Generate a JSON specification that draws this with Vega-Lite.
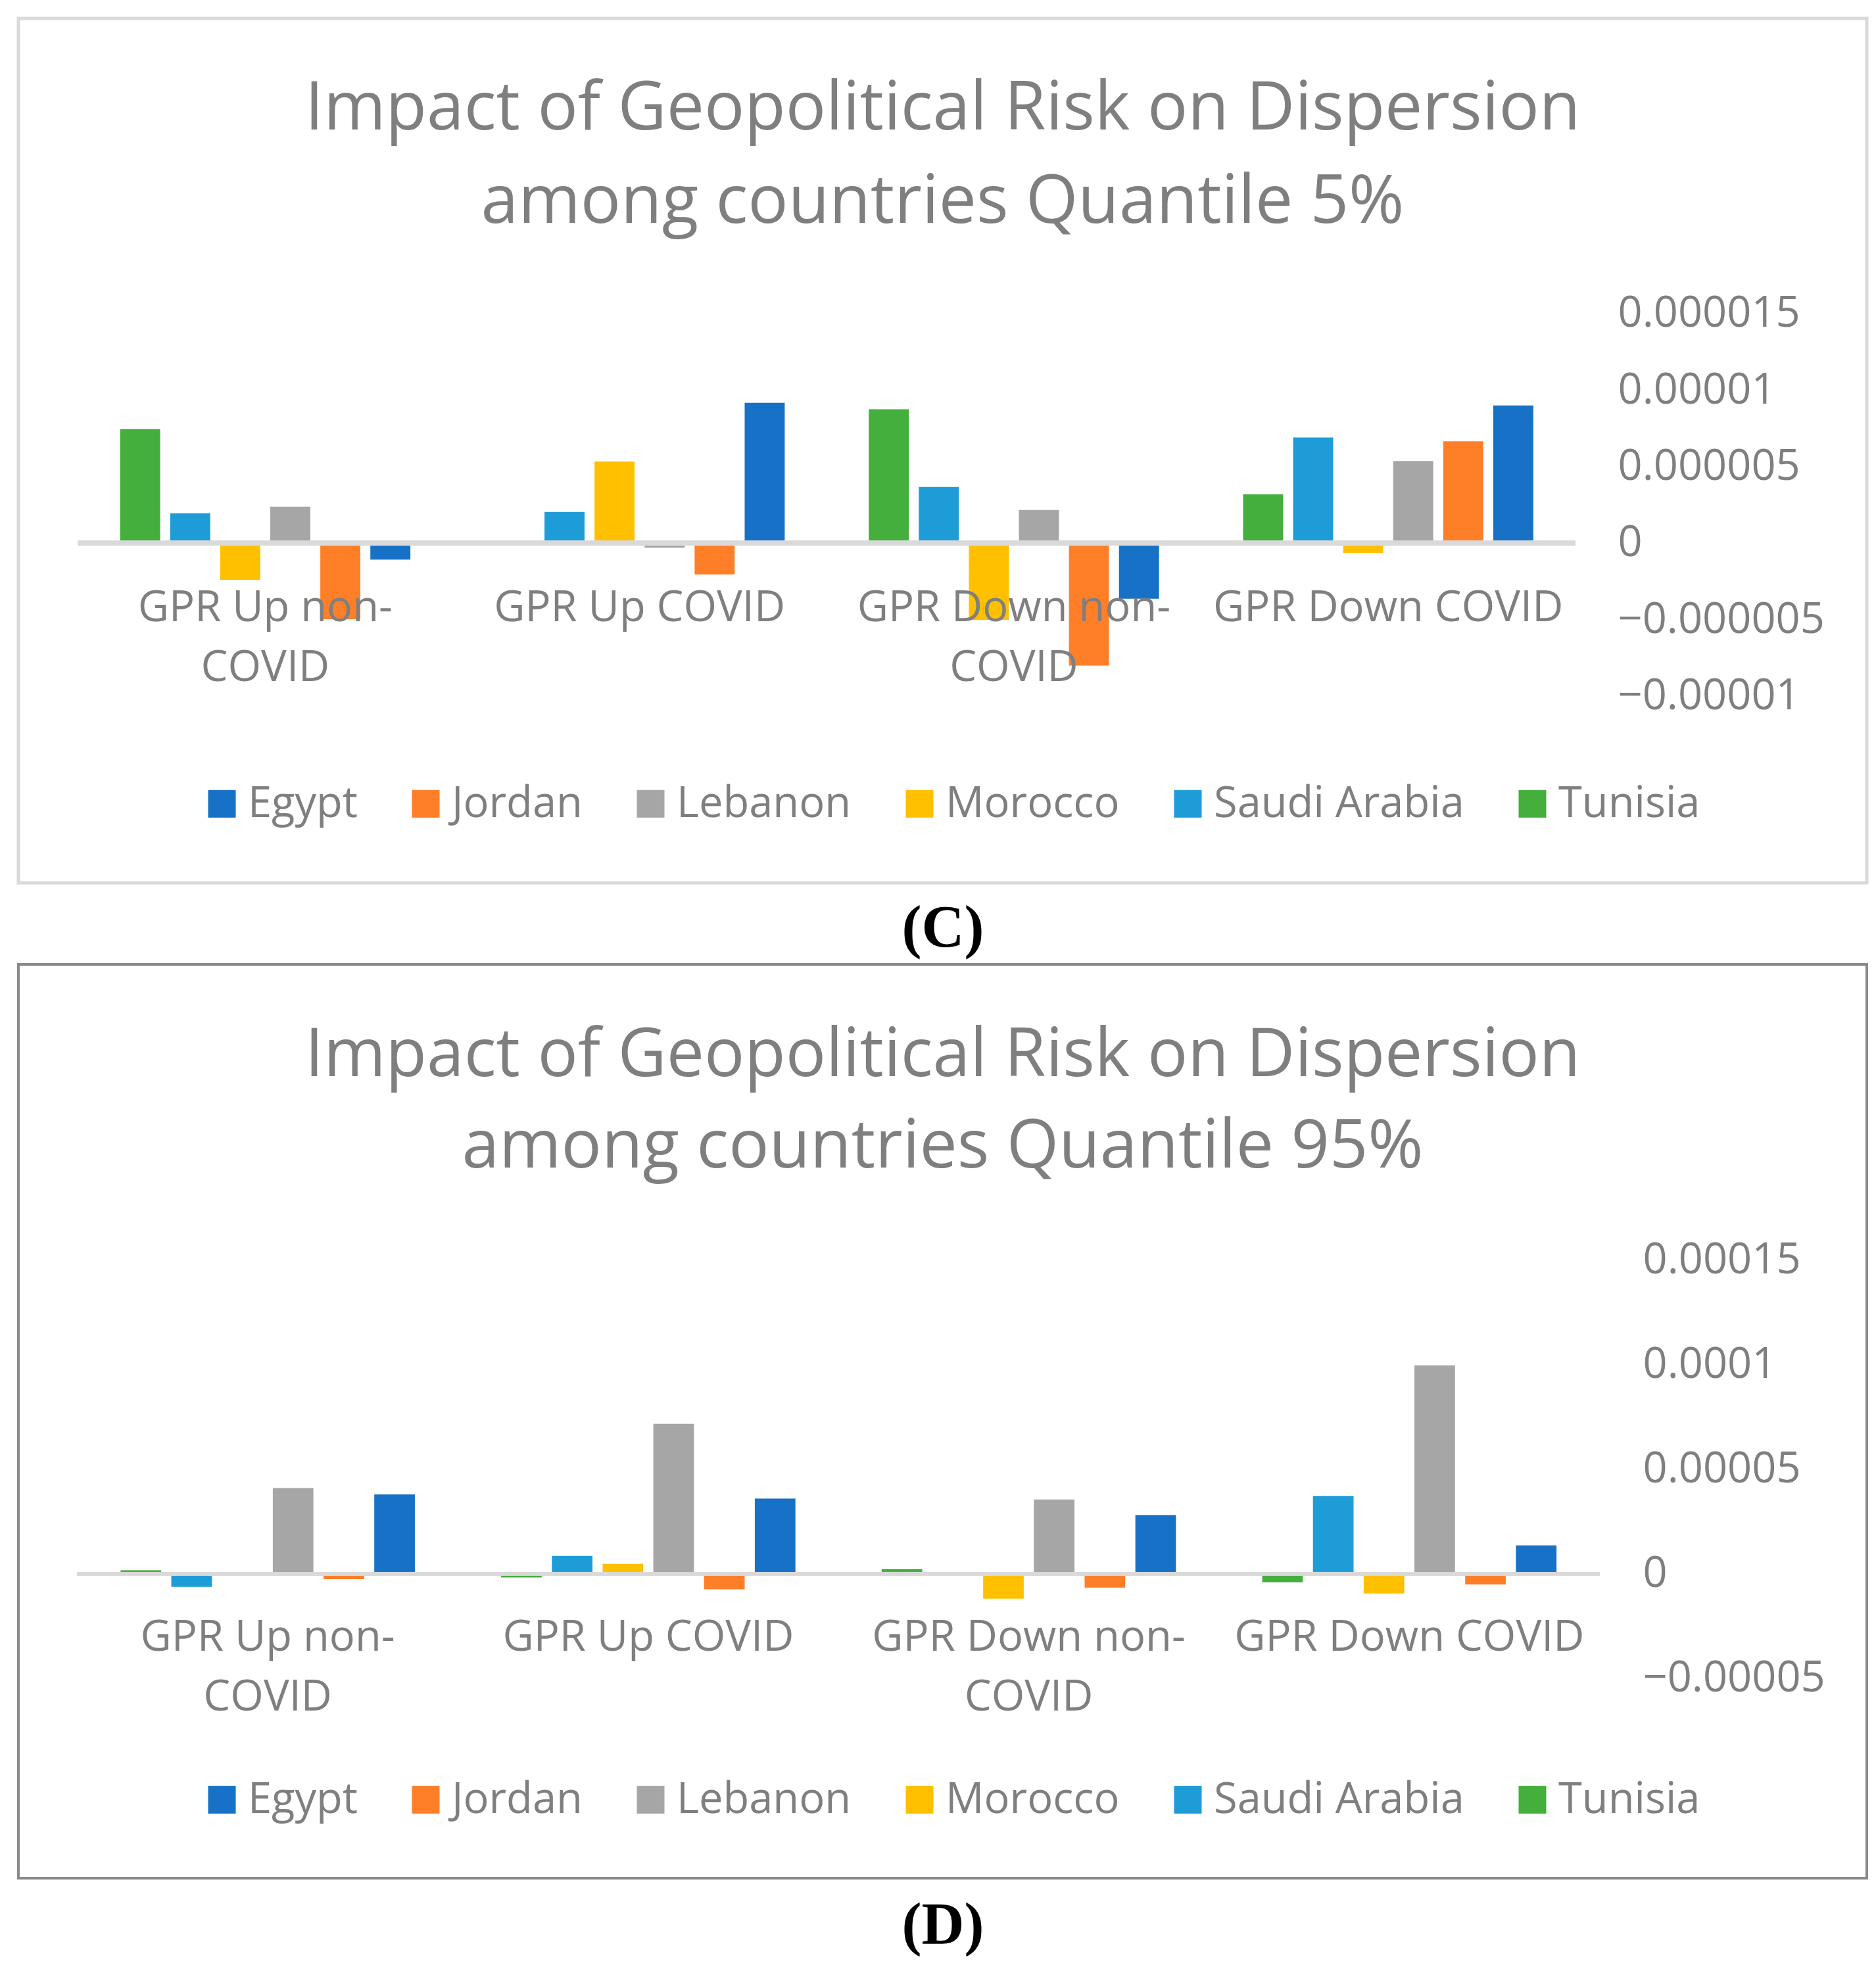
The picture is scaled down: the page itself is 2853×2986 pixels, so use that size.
{
  "$schema": "https://vega.github.io/schema/vega-lite/v6.json",
  "background": "white",
  "padding": {"left": 25, "top": 25, "right": 0, "bottom": 0},
  "spacing": 5,
  "datasets": {
    "cats": [
      {"cat": "GPR Up non-COVID", "label": "GPR Up non-\nCOVID"},
      {"cat": "GPR Up COVID", "label": "GPR Up COVID"},
      {"cat": "GPR Down non-COVID", "label": "GPR Down non-\nCOVID"},
      {"cat": "GPR Down COVID", "label": "GPR Down COVID"}
    ],
    "q5": [
      {"group": "GPR Up non-COVID", "country": "Tunisia", "value": 7.44e-6},
      {"group": "GPR Up non-COVID", "country": "Saudi Arabia", "value": 1.94e-6},
      {"group": "GPR Up non-COVID", "country": "Morocco", "value": -2.4e-6},
      {"group": "GPR Up non-COVID", "country": "Lebanon", "value": 2.37e-6},
      {"group": "GPR Up non-COVID", "country": "Jordan", "value": -4.98e-6},
      {"group": "GPR Up non-COVID", "country": "Egypt", "value": -1.08e-6},
      {"group": "GPR Up COVID", "country": "Tunisia", "value": 0},
      {"group": "GPR Up COVID", "country": "Saudi Arabia", "value": 2.03e-6},
      {"group": "GPR Up COVID", "country": "Morocco", "value": 5.32e-6},
      {"group": "GPR Up COVID", "country": "Lebanon", "value": -0.3e-6},
      {"group": "GPR Up COVID", "country": "Jordan", "value": -2.05e-6},
      {"group": "GPR Up COVID", "country": "Egypt", "value": 9.15e-6},
      {"group": "GPR Down non-COVID", "country": "Tunisia", "value": 8.73e-6},
      {"group": "GPR Down non-COVID", "country": "Saudi Arabia", "value": 3.66e-6},
      {"group": "GPR Down non-COVID", "country": "Morocco", "value": -5.02e-6},
      {"group": "GPR Down non-COVID", "country": "Lebanon", "value": 2.16e-6},
      {"group": "GPR Down non-COVID", "country": "Jordan", "value": -8.0e-6},
      {"group": "GPR Down non-COVID", "country": "Egypt", "value": -3.64e-6},
      {"group": "GPR Down COVID", "country": "Tunisia", "value": 3.18e-6},
      {"group": "GPR Down COVID", "country": "Saudi Arabia", "value": 6.89e-6},
      {"group": "GPR Down COVID", "country": "Morocco", "value": -0.64e-6},
      {"group": "GPR Down COVID", "country": "Lebanon", "value": 5.35e-6},
      {"group": "GPR Down COVID", "country": "Jordan", "value": 6.64e-6},
      {"group": "GPR Down COVID", "country": "Egypt", "value": 8.98e-6}
    ],
    "q95": [
      {"group": "GPR Up non-COVID", "country": "Tunisia", "value": 1.7e-6},
      {"group": "GPR Up non-COVID", "country": "Saudi Arabia", "value": -6.2e-6},
      {"group": "GPR Up non-COVID", "country": "Morocco", "value": 0},
      {"group": "GPR Up non-COVID", "country": "Lebanon", "value": 4.1e-5},
      {"group": "GPR Up non-COVID", "country": "Jordan", "value": -2.5e-6},
      {"group": "GPR Up non-COVID", "country": "Egypt", "value": 3.8e-5},
      {"group": "GPR Up COVID", "country": "Tunisia", "value": -1.7e-6},
      {"group": "GPR Up COVID", "country": "Saudi Arabia", "value": 8.6e-6},
      {"group": "GPR Up COVID", "country": "Morocco", "value": 4.8e-6},
      {"group": "GPR Up COVID", "country": "Lebanon", "value": 7.18e-5},
      {"group": "GPR Up COVID", "country": "Jordan", "value": -7.4e-6},
      {"group": "GPR Up COVID", "country": "Egypt", "value": 3.6e-5},
      {"group": "GPR Down non-COVID", "country": "Tunisia", "value": 2.2e-6},
      {"group": "GPR Down non-COVID", "country": "Saudi Arabia", "value": 0},
      {"group": "GPR Down non-COVID", "country": "Morocco", "value": -1.19e-5},
      {"group": "GPR Down non-COVID", "country": "Lebanon", "value": 3.55e-5},
      {"group": "GPR Down non-COVID", "country": "Jordan", "value": -6.6e-6},
      {"group": "GPR Down non-COVID", "country": "Egypt", "value": 2.81e-5},
      {"group": "GPR Down COVID", "country": "Tunisia", "value": -4.1e-6},
      {"group": "GPR Down COVID", "country": "Saudi Arabia", "value": 3.72e-5},
      {"group": "GPR Down COVID", "country": "Morocco", "value": -9.4e-6},
      {"group": "GPR Down COVID", "country": "Lebanon", "value": 9.97e-5},
      {"group": "GPR Down COVID", "country": "Jordan", "value": -5.1e-6},
      {"group": "GPR Down COVID", "country": "Egypt", "value": 1.36e-5}
    ]
  },
  "config": {
    "font": "Open Sans",
    "axis": {"grid": false, "labelColor": "#7f7f7f", "labelFont": "Open Sans"},
    "legend": {"labelColor": "#7f7f7f", "labelFont": "Open Sans"}
  },
  "resolve": {
    "scale": {"x": "independent", "y": "independent", "xOffset": "independent", "color": "independent"},
    "legend": {"color": "independent"},
    "axis": {"x": "independent", "y": "independent"}
  },
  "vconcat": [
    {
      "width": 2811,
      "height": 1315,
      "view": {"stroke": "#d9d9d9", "strokeWidth": 5},
      "title": {
        "text": ["Impact of Geopolitical Risk on Dispersion", "among countries Quantile 5%"],
        "anchor": "middle",
        "frame": "group",
        "offset": -332,
        "font": "Open Sans",
        "fontSize": 102,
        "fontWeight": "normal",
        "color": "#7f7f7f",
        "lineHeight": 142
      },
      "data": {"name": "q5"},
      "layer": [
        {
          "mark": {"type": "bar"},
          "encoding": {
            "x": {
              "field": "group",
              "type": "nominal",
              "scale": {
                "domain": ["GPR Up non-COVID", "GPR Up COVID", "GPR Down non-COVID", "GPR Down COVID"],
                "paddingInner": 0,
                "paddingOuter": 0.469,
                "align": 0.17
              },
              "axis": {
                "labels": false,
                "ticks": false,
                "domain": false,
                "title": "(C)",
                "titleFont": "Liberation Serif",
                "titleFontSize": 90,
                "titleFontWeight": "bold",
                "titleColor": "#000000",
                "titlePadding": 25
              }
            },
            "xOffset": {
              "field": "country",
              "type": "nominal",
              "scale": {
                "domain": ["Tunisia", "Saudi Arabia", "Morocco", "Lebanon", "Jordan", "Egypt"],
                "paddingInner": 0.2,
                "paddingOuter": 0.84
              }
            },
            "y": {
              "field": "value",
              "type": "quantitative",
              "scale": {"domain": [-2.219e-5, 3.425e-5], "nice": false, "zero": false},
              "axis": {
                "orient": "right",
                "offset": -379,
                "title": null,
                "ticks": false,
                "tickSize": 0,
                "domain": false,
                "labelPadding": 0,
                "labelAlign": "left",
                "labelOverlap": false,
                "labelLimit": 0,
                "labelFontSize": 65,
                "values": [-1e-5, -5e-6, 0, 5e-6, 1e-5, 1.5e-5],
                "format": "~g"
              }
            },
            "color": {
              "field": "country",
              "type": "nominal",
              "scale": {
                "domain": ["Egypt", "Jordan", "Lebanon", "Morocco", "Saudi Arabia", "Tunisia"],
                "range": ["#1771c6", "#fe7f27", "#a6a6a6", "#ffc000", "#1e9cd8", "#44af3c"]
              },
              "legend": {
                "orient": "none",
                "legendX": 277,
                "legendY": 1162,
                "direction": "horizontal",
                "columns": 6,
                "title": null,
                "symbolType": "square",
                "symbolSize": 1764,
                "symbolStrokeWidth": 0,
                "labelFontSize": 65,
                "labelOffset": 7,
                "columnPadding": 71,
                "labelLimit": 0
              }
            }
          }
        },
        {
          "mark": {"type": "rule", "color": "#d9d9d9", "strokeWidth": 7},
          "encoding": {
            "x": {"datum": "GPR Up non-COVID", "bandPosition": 0},
            "x2": {"datum": "GPR Down COVID", "bandPosition": 1},
            "y": {"datum": 0}
          }
        },
        {
          "data": {"name": "cats"},
          "mark": {
            "type": "text",
            "font": "Open Sans",
            "fontSize": 65,
            "color": "#7f7f7f",
            "baseline": "top",
            "align": "center",
            "lineBreak": "\n",
            "lineHeight": 91,
            "dy": 68
          },
          "encoding": {
            "x": {"field": "cat", "type": "nominal"},
            "y": {"datum": 0},
            "text": {"field": "label"}
          }
        }
      ]
    },
    {
      "width": 2811,
      "height": 1390,
      "view": {"stroke": "#898989", "strokeWidth": 4},
      "title": {
        "text": ["Impact of Geopolitical Risk on Dispersion", "among countries Quantile 95%"],
        "anchor": "middle",
        "frame": "group",
        "offset": -330,
        "font": "Open Sans",
        "fontSize": 102,
        "fontWeight": "normal",
        "color": "#7f7f7f",
        "lineHeight": 139
      },
      "data": {"name": "q95"},
      "layer": [
        {
          "mark": {"type": "bar"},
          "encoding": {
            "x": {
              "field": "group",
              "type": "nominal",
              "scale": {
                "domain": ["GPR Up non-COVID", "GPR Up COVID", "GPR Down non-COVID", "GPR Down COVID"],
                "paddingInner": 0,
                "paddingOuter": 0.4286,
                "align": 0.181
              },
              "axis": {
                "labels": false,
                "ticks": false,
                "domain": false,
                "title": "(D)",
                "titleFont": "Liberation Serif",
                "titleFontSize": 90,
                "titleFontWeight": "bold",
                "titleColor": "#000000",
                "titlePadding": 28
              }
            },
            "xOffset": {
              "field": "country",
              "type": "nominal",
              "scale": {
                "domain": ["Tunisia", "Saudi Arabia", "Morocco", "Lebanon", "Jordan", "Egypt"],
                "paddingInner": 0.2,
                "paddingOuter": 0.85
              }
            },
            "y": {
              "field": "value",
              "type": "quantitative",
              "scale": {"domain": [-1.456e-4, 2.915e-4], "nice": false, "zero": false},
              "axis": {
                "orient": "right",
                "offset": -341,
                "title": null,
                "ticks": false,
                "tickSize": 0,
                "domain": false,
                "labelPadding": 0,
                "labelAlign": "left",
                "labelOverlap": false,
                "labelLimit": 0,
                "labelFontSize": 65,
                "values": [-5e-5, 0, 5e-5, 1e-4, 1.5e-4],
                "format": "~g"
              }
            },
            "color": {
              "field": "country",
              "type": "nominal",
              "scale": {
                "domain": ["Egypt", "Jordan", "Lebanon", "Morocco", "Saudi Arabia", "Tunisia"],
                "range": ["#1771c6", "#fe7f27", "#a6a6a6", "#ffc000", "#1e9cd8", "#44af3c"]
              },
              "legend": {
                "orient": "none",
                "legendX": 277,
                "legendY": 1238,
                "direction": "horizontal",
                "columns": 6,
                "title": null,
                "symbolType": "square",
                "symbolSize": 1764,
                "symbolStrokeWidth": 0,
                "labelFontSize": 65,
                "labelOffset": 7,
                "columnPadding": 71,
                "labelLimit": 0
              }
            }
          }
        },
        {
          "mark": {"type": "rule", "color": "#d9d9d9", "strokeWidth": 6},
          "encoding": {
            "x": {"datum": "GPR Up non-COVID", "bandPosition": 0},
            "x2": {"datum": "GPR Down COVID", "bandPosition": 1},
            "y": {"datum": 0}
          }
        },
        {
          "data": {"name": "cats"},
          "mark": {
            "type": "text",
            "font": "Open Sans",
            "fontSize": 65,
            "color": "#7f7f7f",
            "baseline": "top",
            "align": "center",
            "lineBreak": "\n",
            "lineHeight": 91,
            "dy": 66
          },
          "encoding": {
            "x": {"field": "cat", "type": "nominal"},
            "y": {"datum": 0},
            "text": {"field": "label"}
          }
        }
      ]
    }
  ]
}
